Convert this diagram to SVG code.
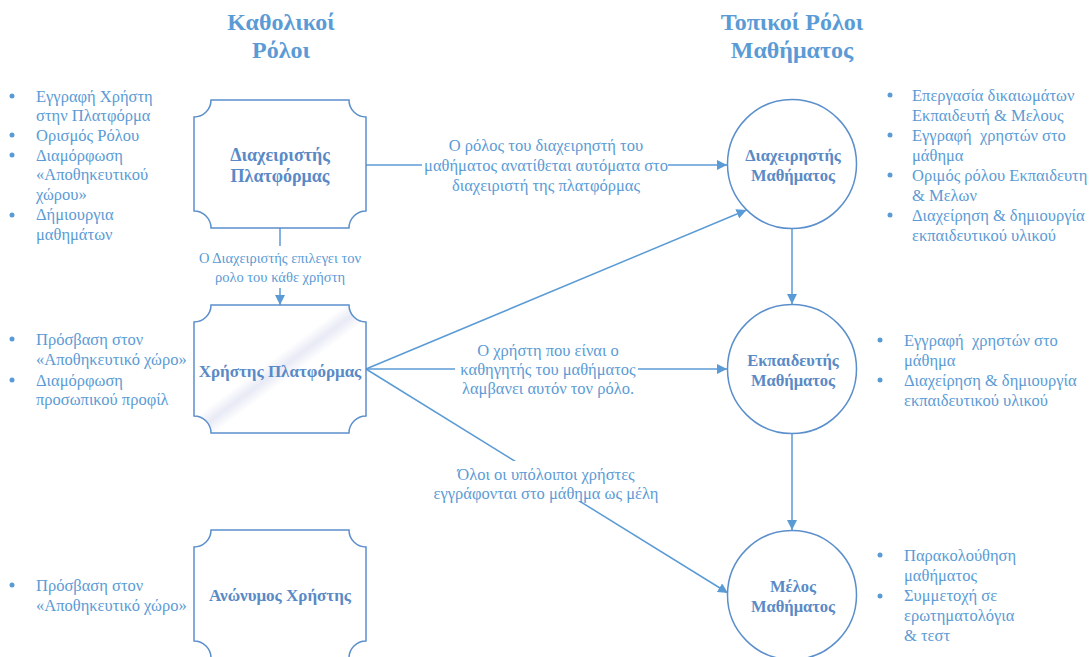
<svg xmlns="http://www.w3.org/2000/svg" width="1089" height="657" viewBox="0 0 1089 657">
<style>
  text { font-family: "Liberation Serif", "Times New Roman", serif; }
  .title { font-size: 24px; font-weight: bold; fill: #5b9bd5; text-anchor: middle; }
  .node { fill: #ffffff; stroke: #5b8fcc; stroke-width: 1.5; }
  .nlabel { font-size: 17px; font-weight: bold; fill: #5a8ac6; text-anchor: middle; }
  .clabel { font-size: 16.5px; font-weight: bold; fill: #5a8ac6; text-anchor: middle; }
  .bl { font-size: 16.5px; fill: #5b9bd5; }
  .dot { fill: #5b9bd5; }
  .conn { stroke: #5b9bd5; stroke-width: 1.5; fill: none; }
  .elabel { font-size: 16.5px; fill: #5b9bd5; text-anchor: middle; }
  .slabel { font-size: 14.5px; fill: #5b9bd5; text-anchor: middle; }
  .bg { fill: #ffffff; }
</style>
<defs>
  <marker id="arr" viewBox="0 0 10 10" refX="10" refY="5" markerWidth="10" markerHeight="10" markerUnits="userSpaceOnUse" orient="auto">
    <path d="M0,0 L10,5 L0,10 z" fill="#5b9bd5"/>
  </marker>
  <linearGradient id="shine" x1="0" y1="0" x2="1" y2="1">
    <stop offset="0" stop-color="#ffffff"/>
    <stop offset="0.44" stop-color="#ffffff"/>
    <stop offset="0.5" stop-color="#e8eaf5"/>
    <stop offset="0.56" stop-color="#ffffff"/>
    <stop offset="1" stop-color="#ffffff"/>
  </linearGradient>
</defs>
<rect width="1089" height="657" fill="#ffffff"/>

<g id="titles">
  <text class="title" x="281" y="30">Καθολικοί</text>
  <text class="title" x="281" y="58">Ρόλοι</text>
  <text class="title" x="792" y="30">Τοπικοί Ρόλοι</text>
  <text class="title" x="792" y="58">Μαθήματος</text>
</g>

<g id="connectors">
  <line class="conn" x1="366" y1="165" x2="727" y2="165" marker-end="url(#arr)"/>
  <line class="conn" x1="280" y1="228" x2="280" y2="305" marker-end="url(#arr)"/>
  <line class="conn" x1="366" y1="369" x2="746.5" y2="210" marker-end="url(#arr)"/>
  <line class="conn" x1="366" y1="369" x2="727" y2="369" marker-end="url(#arr)"/>
  <line class="conn" x1="366" y1="369" x2="728" y2="593" marker-end="url(#arr)"/>
  <line class="conn" x1="792" y1="228.5" x2="792" y2="304" marker-end="url(#arr)"/>
  <line class="conn" x1="792" y1="433.5" x2="792" y2="530" marker-end="url(#arr)"/>
  <g id="edge-labels">
    <rect class="bg" x="422" y="157" width="246" height="16"/>
    <text class="elabel" x="546" y="150.5">Ο ρόλος του διαχειρηστή του</text>
    <text class="elabel" x="546" y="171">μαθήματος ανατίθεται αυτόματα στο</text>
    <text class="elabel" x="546" y="190.5">διαχειριστή της πλατφόρμας</text>
    <rect class="bg" x="194" y="246" width="172" height="42"/>
    <text class="slabel" x="280" y="262.5">Ο Διαχειριστής επιλεγει τον</text>
    <text class="slabel" x="280" y="281.5">ρολο του κάθε χρήστη</text>
    <rect class="bg" x="455" y="361" width="183" height="16"/>
    <text class="elabel" x="548" y="355.5">Ο χρήστη που είναι ο</text>
    <text class="elabel" x="548" y="375">καθηγητής του μαθήματος</text>
    <text class="elabel" x="548" y="394">λαμβανει αυτόν τον ρόλο.</text>
    <rect class="bg" x="432" y="461" width="228" height="40"/>
    <text class="elabel" x="546" y="479.5">Όλοι οι υπόλοιποι χρήστες</text>
    <text class="elabel" x="546" y="498.5">εγγράφονται στο μάθημα ως μέλη</text>
  </g>
</g>

<g id="node-admin-platform">
  <path class="node" d="M211,100 L349,100 A17,17 0 0 0 366,117 L366,211 A17,17 0 0 0 349,228 L211,228 A17,17 0 0 0 194,211 L194,117 A17,17 0 0 0 211,100 Z"/>
  <text class="nlabel" x="280" y="161" style="font-size:18px">Διαχειριστής</text>
  <text class="nlabel" x="280" y="182" style="font-size:18px">Πλατφόρμας</text>
</g>

<g id="node-platform-user">
  <path class="node" style="fill:url(#shine)" d="M211,305 L349,305 A17,17 0 0 0 366,322 L366,416 A17,17 0 0 0 349,433 L211,433 A17,17 0 0 0 194,416 L194,322 A17,17 0 0 0 211,305 Z"/>
  <text class="nlabel" x="280" y="376.5">Χρήστης Πλατφόρμας</text>
</g>

<g id="node-anonymous">
  <path class="node" d="M211,530 L349,530 A17,17 0 0 0 366,547 L366,641 A17,17 0 0 0 349,658 L211,658 A17,17 0 0 0 194,641 L194,547 A17,17 0 0 0 211,530 Z"/>
  <text class="nlabel" x="280" y="600.5">Ανώνυμος Χρήστης</text>
</g>

<g id="node-course-admin">
  <circle class="node" cx="792" cy="164" r="64.5"/>
  <text class="clabel" x="793" y="161">Διαχειρηστής</text>
  <text class="clabel" x="793" y="181">Μαθήματος</text>
</g>

<g id="node-course-teacher">
  <circle class="node" cx="792" cy="369" r="64.5"/>
  <text class="clabel" x="793" y="365.5">Εκπαιδευτής</text>
  <text class="clabel" x="793" y="385.5">Μαθήματος</text>
</g>

<g id="node-course-member">
  <circle class="node" cx="792" cy="595" r="64.5"/>
  <text class="clabel" x="793" y="592">Μέλος</text>
  <text class="clabel" x="793" y="612">Μαθήματος</text>
</g>

<g id="list-admin-platform">
  <circle class="dot" cx="12" cy="96" r="2.5"/>
  <circle class="dot" cx="12" cy="135" r="2.5"/>
  <circle class="dot" cx="12" cy="155" r="2.5"/>
  <circle class="dot" cx="12" cy="215" r="2.5"/>
  <text class="bl" x="36" y="101.5">Εγγραφή Χρήστη</text>
  <text class="bl" x="36" y="120.5">στην Πλατφόρμα</text>
  <text class="bl" x="36" y="140.5">Ορισμός Ρόλου</text>
  <text class="bl" x="36" y="160.5">Διαμόρφωση</text>
  <text class="bl" x="36" y="180">«Αποθηκευτικού</text>
  <text class="bl" x="36" y="200">χώρου»</text>
  <text class="bl" x="36" y="220">Δήμιουργια</text>
  <text class="bl" x="36" y="239.5">μαθημάτων</text>
</g>

<g id="list-platform-user">
  <circle class="dot" cx="12" cy="339" r="2.5"/>
  <circle class="dot" cx="12" cy="380" r="2.5"/>
  <text class="bl" x="36" y="344.5">Πρόσβαση στον</text>
  <text class="bl" x="36" y="364.5">«Αποθηκευτικό χώρο»</text>
  <text class="bl" x="36" y="385.5">Διαμόρφωση</text>
  <text class="bl" x="36" y="404.5">προσωπικού προφίλ</text>
</g>

<g id="list-anonymous">
  <circle class="dot" cx="12" cy="585" r="2.5"/>
  <text class="bl" x="36" y="590.5">Πρόσβαση στον</text>
  <text class="bl" x="36" y="610.5">«Αποθηκευτικό χώρο»</text>
</g>

<g id="list-course-admin">
  <circle class="dot" cx="890" cy="95" r="2.5"/>
  <circle class="dot" cx="890" cy="135" r="2.5"/>
  <circle class="dot" cx="890" cy="175" r="2.5"/>
  <circle class="dot" cx="890" cy="215" r="2.5"/>
  <text class="bl" x="912" y="100.5">Επεργασία δικαιωμάτων</text>
  <text class="bl" x="912" y="120.5">Εκπαιδευτή &amp; Μελους</text>
  <text class="bl" x="912" y="140.5" xml:space="preserve">Εγγραφή  χρηστών στο</text>
  <text class="bl" x="912" y="160.5">μάθημα</text>
  <text class="bl" x="912" y="180.5">Οριμός ρόλου Εκπαιδευτη</text>
  <text class="bl" x="912" y="200.5">&amp; Μελων</text>
  <text class="bl" x="912" y="220.5">Διαχείρηση &amp; δημιουργία</text>
  <text class="bl" x="912" y="240.5">εκπαιδευτικού υλικού</text>
</g>

<g id="list-course-teacher">
  <circle class="dot" cx="880" cy="340" r="2.5"/>
  <circle class="dot" cx="880" cy="380" r="2.5"/>
  <text class="bl" x="904" y="345.5" xml:space="preserve">Εγγραφή  χρηστών στο</text>
  <text class="bl" x="904" y="365.5">μάθημα</text>
  <text class="bl" x="904" y="385.5">Διαχείρηση &amp; δημιουργία</text>
  <text class="bl" x="904" y="405.5">εκπαιδευτικού υλικού</text>
</g>

<g id="list-course-member">
  <circle class="dot" cx="880" cy="555" r="2.5"/>
  <circle class="dot" cx="880" cy="596" r="2.5"/>
  <text class="bl" x="904" y="560.5">Παρακολούθηση</text>
  <text class="bl" x="904" y="581">μαθήματος</text>
  <text class="bl" x="904" y="601">Συμμετοχή σε</text>
  <text class="bl" x="904" y="621">ερωτηματολόγια</text>
  <text class="bl" x="904" y="640.5">&amp; τεστ</text>
</g>
</svg>
